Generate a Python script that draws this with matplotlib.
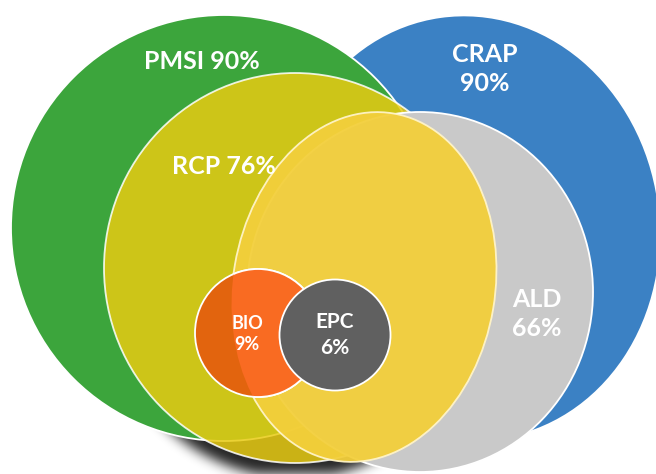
import numpy as np
import matplotlib.pyplot as plt
from matplotlib.patches import Ellipse

# Set names and coverage (%)
sets = ['PMSI', 'CRAP', 'RCP', 'ALD', 'BIO', 'EPC']
pcts = [90, 90, 76, 66, 9, 6]

# Geometry in pixel space (cx, cy, width, height, angle), y grows downward
W, H = 656, 474
shapes = {
    'CRAP': (470, 228, 380, 426, -8),
    'PMSI': (224, 228, 426, 426, 0),
    'RCP': (295, 268, 382, 390, 0),
    'ALD': (420, 292, 346, 360, 0),
    'overlap': (364, 287, 262, 352, 9.7),
    'BIO': (258, 333, 126, 128, 0),
    'EPC': (335, 335, 111, 111, 0),
}
fills = {'CRAP': '#3b81c4', 'PMSI': '#3ca53c', 'RCP': '#e8cb12',
         'ALD': '#c9c9c9', 'overlap': '#f3cf3b', 'BIO': '#e2640e',
         'EPC': '#606060'}
alphas = {'RCP': 0.85, 'overlap': 0.95}
order = ['CRAP', 'PMSI', 'RCP', 'ALD', 'overlap', 'BIO', 'EPC']

# label anchor (x, y) and font size
label_pos = {'PMSI': (202, 61, 18), 'CRAP': (485, 69, 18), 'RCP': (224, 167, 18),
             'ALD': (537, 314, 18), 'BIO': (247, 334, 13), 'EPC': (335, 335, 15)}
two_lines = {'CRAP', 'ALD', 'BIO', 'EPC'}

fig = plt.figure(figsize=(W / 100, H / 100), dpi=100)
ax = fig.add_axes([0, 0, 1, 1])

# soft drop shadow under the RCP ellipse
yy, xx = np.mgrid[0:H, 0:W] + 0.5
sx, sy, sa, sb = 295, 283, 191, 195
m = ((((xx - sx) / sa) ** 2 + ((yy - sy) / sb) ** 2) <= 1).astype(float)
k = np.exp(-0.5 * (np.arange(-15, 16) / 6.0) ** 2)
k /= k.sum()
m = np.apply_along_axis(lambda r: np.convolve(r, k, mode='same'), 1, m)
m = np.apply_along_axis(lambda c: np.convolve(c, k, mode='same'), 0, m)
shadow = np.zeros((H, W, 4))
shadow[..., 3] = m * 0.85
ax.imshow(shadow, extent=(0, W, H, 0), zorder=0.5, interpolation='bilinear')

patches = {}
for z, name in enumerate(order):
    cx, cy, w, h, ang = shapes[name]
    edge = '#fff4c8' if name == 'overlap' else 'white'
    e = Ellipse((cx, cy), w, h, angle=ang, facecolor=fills[name],
                edgecolor=edge, linewidth=1.3, alpha=alphas.get(name, 1.0),
                zorder=z + 1)
    ax.add_patch(e)
    patches[name] = e

# BIO looks brighter where it sits on the yellow overlap
cx, cy, w, h, ang = shapes['BIO']
bright = Ellipse((cx, cy), w, h, angle=ang, facecolor='#f96b22',
                 edgecolor='white', linewidth=1.3, zorder=6.5)
ax.add_patch(bright)
bright.set_clip_path(patches['overlap'])

for name, p in zip(sets, pcts):
    x, y, fs = label_pos[name]
    txt = f'{name}\n{p}%' if name in two_lines else f'{name} {p}%'
    ax.text(x, y, txt, ha='center', va='center', color='white', fontsize=fs,
            fontweight='bold', family='Lato', linespacing=1.35, zorder=10)

ax.set_xlim(0, W)
ax.set_ylim(H, 0)
ax.set_aspect('auto')
ax.axis('off')
fig.savefig('out.png', dpi=100, facecolor='white')
